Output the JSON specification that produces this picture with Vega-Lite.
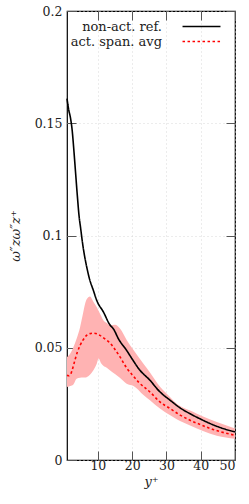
{
  "$schema": "https://vega.github.io/schema/vega-lite/v6.json",
  "width": 168,
  "height": 449,
  "autosize": {"type": "none"},
  "padding": {"left": 67, "top": 11, "right": 14, "bottom": 44},
  "background": "white",
  "config": {
    "font": "DejaVu Serif",
    "view": {"stroke": "#000", "strokeWidth": 1.2},
    "axis": {
      "domain": false,
      "tickSize": -9,
      "tickColor": "#555",
      "tickWidth": 1,
      "labelFont": "DejaVu Serif",
      "labelFontSize": 12.5,
      "labelColor": "#222",
      "titleFont": "DejaVu Serif",
      "titleFontSize": 13,
      "titleFontStyle": "italic",
      "titleFontWeight": "normal",
      "titleColor": "#222",
      "gridColor": "#d4d4d4",
      "gridDash": [1, 3],
      "gridWidth": 0.9
    }
  },
  "datasets": {
    "band": [
      {"yp": 1, "lo": 0.0325, "hi": 0.0458},
      {"yp": 2, "lo": 0.033, "hi": 0.0475},
      {"yp": 2.8, "lo": 0.0335, "hi": 0.05},
      {"yp": 3.8, "lo": 0.0362, "hi": 0.054},
      {"yp": 4.8, "lo": 0.0366, "hi": 0.059},
      {"yp": 5.5, "lo": 0.0367, "hi": 0.064},
      {"yp": 6.3, "lo": 0.0368, "hi": 0.0697},
      {"yp": 6.7, "lo": 0.0369, "hi": 0.0715},
      {"yp": 7.7, "lo": 0.038, "hi": 0.0728},
      {"yp": 8.7, "lo": 0.04, "hi": 0.0705},
      {"yp": 9.7, "lo": 0.043, "hi": 0.068},
      {"yp": 10.2, "lo": 0.0452, "hi": 0.0665},
      {"yp": 11, "lo": 0.043, "hi": 0.064},
      {"yp": 11.6, "lo": 0.042, "hi": 0.0622},
      {"yp": 12.6, "lo": 0.0411, "hi": 0.061},
      {"yp": 13.5, "lo": 0.04, "hi": 0.06},
      {"yp": 15, "lo": 0.0383, "hi": 0.0603},
      {"yp": 16.5, "lo": 0.0365, "hi": 0.0585},
      {"yp": 18.4, "lo": 0.034, "hi": 0.0535},
      {"yp": 20.4, "lo": 0.033, "hi": 0.049},
      {"yp": 23.3, "lo": 0.029, "hi": 0.0429},
      {"yp": 25.2, "lo": 0.0266, "hi": 0.039},
      {"yp": 28.2, "lo": 0.0228, "hi": 0.0325},
      {"yp": 31.1, "lo": 0.0199, "hi": 0.028},
      {"yp": 33, "lo": 0.0182, "hi": 0.0251},
      {"yp": 36.9, "lo": 0.0154, "hi": 0.022},
      {"yp": 38.9, "lo": 0.014, "hi": 0.0206},
      {"yp": 42.8, "lo": 0.0117, "hi": 0.018},
      {"yp": 44.7, "lo": 0.0108, "hi": 0.0169},
      {"yp": 50, "lo": 0.0095, "hi": 0.014}
    ],
    "curves": [
      {"series": "non-act. ref.", "yp": 1, "v": 0.161},
      {"series": "non-act. ref.", "yp": 1.5, "v": 0.156},
      {"series": "non-act. ref.", "yp": 2, "v": 0.1525},
      {"series": "non-act. ref.", "yp": 2.5, "v": 0.147},
      {"series": "non-act. ref.", "yp": 3, "v": 0.138},
      {"series": "non-act. ref.", "yp": 3.5, "v": 0.128},
      {"series": "non-act. ref.", "yp": 4, "v": 0.118},
      {"series": "non-act. ref.", "yp": 4.5, "v": 0.109},
      {"series": "non-act. ref.", "yp": 5, "v": 0.103},
      {"series": "non-act. ref.", "yp": 5.5, "v": 0.097},
      {"series": "non-act. ref.", "yp": 6, "v": 0.092},
      {"series": "non-act. ref.", "yp": 6.75, "v": 0.086},
      {"series": "non-act. ref.", "yp": 7.5, "v": 0.081},
      {"series": "non-act. ref.", "yp": 8.7, "v": 0.0755},
      {"series": "non-act. ref.", "yp": 9.7, "v": 0.071},
      {"series": "non-act. ref.", "yp": 11.6, "v": 0.066},
      {"series": "non-act. ref.", "yp": 13.6, "v": 0.06},
      {"series": "non-act. ref.", "yp": 14.5, "v": 0.0585},
      {"series": "non-act. ref.", "yp": 16, "v": 0.054},
      {"series": "non-act. ref.", "yp": 18.4, "v": 0.0488},
      {"series": "non-act. ref.", "yp": 20, "v": 0.045},
      {"series": "non-act. ref.", "yp": 22, "v": 0.0405},
      {"series": "non-act. ref.", "yp": 25.2, "v": 0.0355},
      {"series": "non-act. ref.", "yp": 28, "v": 0.0305},
      {"series": "non-act. ref.", "yp": 31.1, "v": 0.0266},
      {"series": "non-act. ref.", "yp": 34, "v": 0.0232},
      {"series": "non-act. ref.", "yp": 36.9, "v": 0.0206},
      {"series": "non-act. ref.", "yp": 40, "v": 0.0182},
      {"series": "non-act. ref.", "yp": 42.8, "v": 0.0162},
      {"series": "non-act. ref.", "yp": 46, "v": 0.0143},
      {"series": "non-act. ref.", "yp": 50, "v": 0.0125},
      {"series": "act. span. avg", "yp": 1, "v": 0.0377},
      {"series": "act. span. avg", "yp": 1.5, "v": 0.0375},
      {"series": "act. span. avg", "yp": 2, "v": 0.038},
      {"series": "act. span. avg", "yp": 2.5, "v": 0.04},
      {"series": "act. span. avg", "yp": 3.3, "v": 0.0444},
      {"series": "act. span. avg", "yp": 4, "v": 0.048},
      {"series": "act. span. avg", "yp": 4.8, "v": 0.051},
      {"series": "act. span. avg", "yp": 5.7, "v": 0.0535},
      {"series": "act. span. avg", "yp": 6.7, "v": 0.0555},
      {"series": "act. span. avg", "yp": 7.7, "v": 0.0563},
      {"series": "act. span. avg", "yp": 8.7, "v": 0.0565},
      {"series": "act. span. avg", "yp": 9.7, "v": 0.0562},
      {"series": "act. span. avg", "yp": 10.6, "v": 0.0555},
      {"series": "act. span. avg", "yp": 12.6, "v": 0.0533},
      {"series": "act. span. avg", "yp": 13.6, "v": 0.052},
      {"series": "act. span. avg", "yp": 14.5, "v": 0.0503},
      {"series": "act. span. avg", "yp": 16.5, "v": 0.0458},
      {"series": "act. span. avg", "yp": 18.4, "v": 0.041},
      {"series": "act. span. avg", "yp": 20, "v": 0.038},
      {"series": "act. span. avg", "yp": 22, "v": 0.0345},
      {"series": "act. span. avg", "yp": 25.2, "v": 0.0303},
      {"series": "act. span. avg", "yp": 28, "v": 0.026},
      {"series": "act. span. avg", "yp": 31.1, "v": 0.0229},
      {"series": "act. span. avg", "yp": 34, "v": 0.02},
      {"series": "act. span. avg", "yp": 36.9, "v": 0.0177},
      {"series": "act. span. avg", "yp": 40, "v": 0.0157},
      {"series": "act. span. avg", "yp": 42.8, "v": 0.014},
      {"series": "act. span. avg", "yp": 46, "v": 0.0125},
      {"series": "act. span. avg", "yp": 50, "v": 0.011}
    ]
  },
  "layer": [
    {
      "data": {"name": "band"},
      "mark": {"type": "area", "color": "#ffb3b3", "opacity": 1, "interpolate": "monotone"},
      "encoding": {
        "x": {
          "field": "yp", "type": "quantitative",
          "scale": {"domain": [1, 50], "nice": false, "zero": false},
          "axis": {"orient": "bottom", "values": [10, 20, 30, 40, 50], "title": "y⁺", "labelPadding": 8, "titlePadding": 4, "grid": true}
        },
        "y": {
          "field": "lo", "type": "quantitative",
          "scale": {"domain": [0, 0.2], "nice": false, "zero": true},
          "axis": {"orient": "left", "values": [0, 0.05, 0.1, 0.15, 0.2], "format": "~g", "title": "ω″zω″z⁺", "labelPadding": 14, "titlePadding": 12, "grid": true}
        },
        "y2": {"field": "hi"}
      }
    },
    {
      "data": {"name": "curves"},
      "mark": {"type": "line", "strokeWidth": 1.6, "interpolate": "monotone"},
      "encoding": {
        "x": {
          "field": "yp", "type": "quantitative",
          "axis": {"orient": "top", "values": [10, 20, 30, 40, 50], "labels": false, "title": null, "grid": false}
        },
        "y": {
          "field": "v", "type": "quantitative",
          "axis": {"orient": "right", "values": [0, 0.05, 0.1, 0.15, 0.2], "labels": false, "title": null, "grid": false}
        },
        "color": {
          "field": "series", "type": "nominal",
          "scale": {"domain": ["non-act. ref.", "act. span. avg"], "range": ["#000000", "#ff0000"]},
          "legend": {"orient": "none", "legendX": 127, "legendY": 8, "title": null, "symbolType": "M-3,0H3", "symbolSize": 160, "symbolStrokeWidth": 1.6, "labelAlign": "right", "labelOffset": -47, "labelFont": "DejaVu Serif", "labelFontSize": 13, "labelColor": "#222", "rowPadding": -1, "padding": 0}
        },
        "strokeDash": {
          "field": "series", "type": "nominal",
          "scale": {"domain": ["non-act. ref.", "act. span. avg"], "range": [[1, 0], [2.5, 2.5]]},
          "legend": {"orient": "none", "legendX": 127, "legendY": 8, "title": null, "symbolType": "M-3,0H3", "symbolSize": 160, "symbolStrokeWidth": 1.6, "labelAlign": "right", "labelOffset": -47, "labelFont": "DejaVu Serif", "labelFontSize": 13, "labelColor": "#222", "rowPadding": -1, "padding": 0}
        }
      }
    }
  ],
  "resolve": {"axis": {"x": "independent", "y": "independent"}}
}
